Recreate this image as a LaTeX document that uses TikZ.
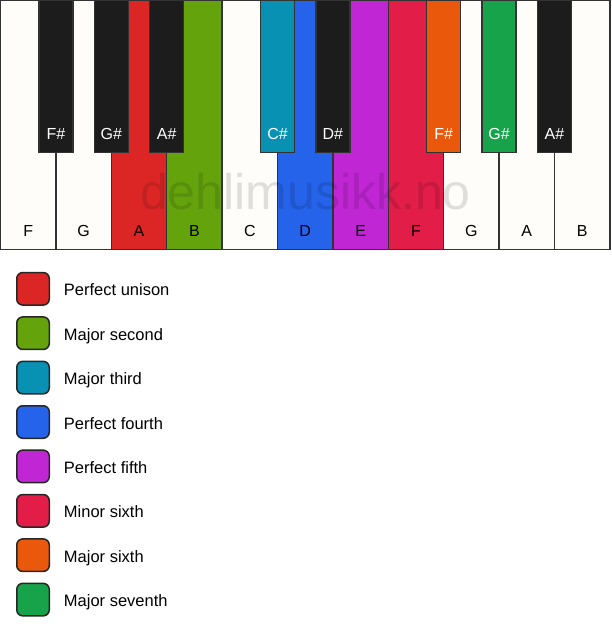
\documentclass[tikz,border=0pt]{standalone}
\usepackage{fontspec}
\setmainfont{Liberation Sans}
\usetikzlibrary{positioning}
\definecolor{keyline}{HTML}{333333}
\definecolor{ivory}{HTML}{FFFDF9}
\definecolor{keyblack}{HTML}{1C1C1C}
\definecolor{swatchline}{HTML}{262626}
\definecolor{unison}{HTML}{DC2626}
\definecolor{second}{HTML}{65A30D}
\definecolor{third}{HTML}{0891B2}
\definecolor{fourth}{HTML}{2563EB}
\definecolor{fifth}{HTML}{C026D3}
\definecolor{minsixth}{HTML}{E11D48}
\definecolor{majsixth}{HTML}{EA580C}
\definecolor{seventh}{HTML}{16A34A}
\tikzset{whitekey/.style={draw=keyline, line width=1.5pt, fill=ivory,
    minimum width=55.4pt, minimum height=248.5pt, inner sep=0pt, outer sep=0pt, anchor=north west}}
\tikzset{blackkey/.style={draw=keyline, line width=1.5pt, fill=keyblack,
    minimum width=34pt, minimum height=152pt, inner sep=0pt, outer sep=0pt, anchor=north}}
\tikzset{keyname/.style={font=\fontsize{16}{19}\selectfont, inner sep=0pt, text depth=0pt}}
\tikzset{swatch/.style={draw=swatchline, line width=1.5pt, rounded corners=6pt,
    minimum size=32.5pt, inner sep=0pt, outer sep=0pt}}
\tikzset{legendtext/.style={font=\fontsize{16.5}{20}\selectfont, inner sep=0pt,
    text height=14pt, text depth=0pt}}

\begin{document}
\begin{tikzpicture}[x=1pt, y=-1pt, node distance=11.9pt]
    \useasboundingbox (0,0) rectangle (611,639);

    %%%% White keys
    \node[whitekey](w1) at (0.5,0.75)                          {};
    \node[whitekey](w2) [right=0pt of w1]                      {};
    \node[whitekey](w3) [right=0pt of w2, fill=unison]         {};
    \node[whitekey](w4) [right=0pt of w3, fill=second]         {};
    \node[whitekey](w5) [right=0pt of w4]                      {};
    \node[whitekey](w6) [right=0pt of w5, fill=fourth]         {};
    \node[whitekey](w7) [right=0pt of w6, fill=fifth]          {};
    \node[whitekey](w8) [right=0pt of w7, fill=minsixth]       {};
    \node[whitekey](w9) [right=0pt of w8]                      {};
    \node[whitekey](w10) [right=0pt of w9]                     {};
    \node[whitekey](w11) [right=0pt of w10]                    {};

    \node[keyname](n1) [above=13pt of w1.south]   {F};
    \node[keyname](n2) [above=13pt of w2.south]   {G};
    \node[keyname](n3) [above=13pt of w3.south]   {A};
    \node[keyname](n4) [above=13pt of w4.south]   {B};
    \node[keyname](n5) [above=13pt of w5.south]   {C};
    \node[keyname](n6) [above=13pt of w6.south]   {D};
    \node[keyname](n7) [above=13pt of w7.south]   {E};
    \node[keyname](n8) [above=13pt of w8.south]   {F};
    \node[keyname](n9) [above=13pt of w9.south]   {G};
    \node[keyname](n10) [above=13pt of w10.south] {A};
    \node[keyname](n11) [above=13pt of w11.south] {B};

    %%%% Black keys
    \node[blackkey](b1) at (w1.north east)                 {};
    \node[blackkey](b2) at (w2.north east)                 {};
    \node[blackkey](b3) at (w3.north east)                 {};
    \node[blackkey](b4) at (w5.north east) [fill=third]    {};
    \node[blackkey](b5) at (w6.north east)                 {};
    \node[blackkey](b6) at (w8.north east) [fill=majsixth] {};
    \node[blackkey](b7) at (w9.north east) [fill=seventh]  {};
    \node[blackkey](b8) at (w10.north east)                {};

    \node[keyname, white](m1) [above=13pt of b1.south] {F\#};
    \node[keyname, white](m2) [above=13pt of b2.south] {G\#};
    \node[keyname, white](m3) [above=13pt of b3.south] {A\#};
    \node[keyname, white](m4) [above=13pt of b4.south] {C\#};
    \node[keyname, white](m5) [above=13pt of b5.south] {D\#};
    \node[keyname, white](m6) [above=13pt of b6.south] {F\#};
    \node[keyname, white](m7) [above=13pt of b7.south] {G\#};
    \node[keyname, white](m8) [above=13pt of b8.south] {A\#};

    %%%% Watermark
    \node(wm) at (305.5,209) [anchor=base, inner sep=0pt, font=\fontsize{50}{60}\selectfont,
        text=black, text opacity=0.12] {dehlimusikk.no};

    %%%% Legend
    \node[swatch](s1) at (33,288.8) [fill=unison]  {};
    \node[swatch](s2) [below=of s1, fill=second]   {};
    \node[swatch](s3) [below=of s2, fill=third]    {};
    \node[swatch](s4) [below=of s3, fill=fourth]   {};
    \node[swatch](s5) [below=of s4, fill=fifth]    {};
    \node[swatch](s6) [below=of s5, fill=minsixth] {};
    \node[swatch](s7) [below=of s6, fill=majsixth] {};
    \node[swatch](s8) [below=of s7, fill=seventh]  {};

    \node[legendtext](l1) [right=14.5pt of s1] {Perfect unison};
    \node[legendtext](l2) [right=14.5pt of s2] {Major second};
    \node[legendtext](l3) [right=14.5pt of s3] {Major third};
    \node[legendtext](l4) [right=14.5pt of s4] {Perfect fourth};
    \node[legendtext](l5) [right=14.5pt of s5] {Perfect fifth};
    \node[legendtext](l6) [right=14.5pt of s6] {Minor sixth};
    \node[legendtext](l7) [right=14.5pt of s7] {Major sixth};
    \node[legendtext](l8) [right=14.5pt of s8] {Major seventh};

  \end{tikzpicture}
\end{document}
